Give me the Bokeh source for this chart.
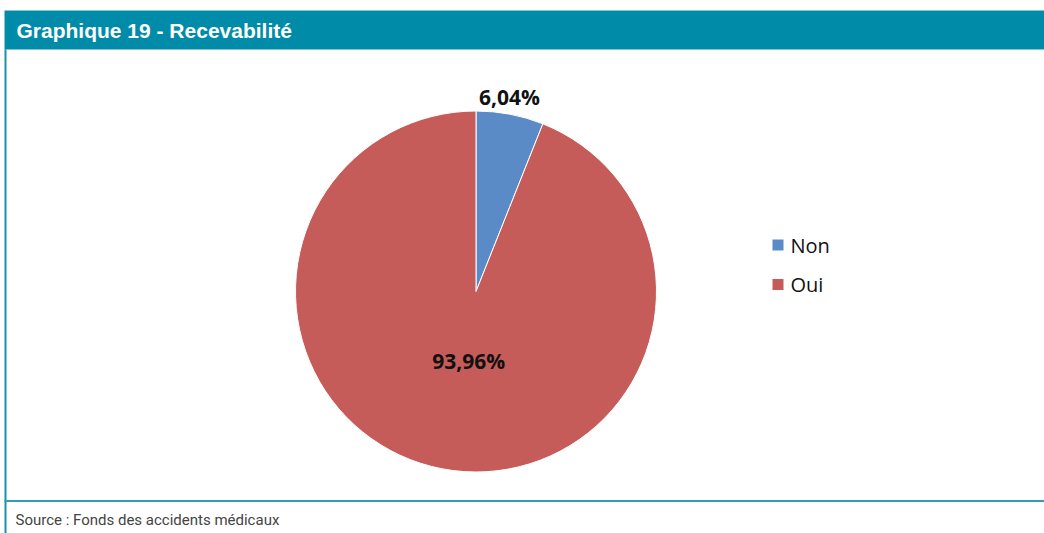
import math
from bokeh.plotting import figure
from bokeh.models import Range1d, ColumnDataSource
from bokeh.core.properties import value
from bokeh.embed import file_html
from bokeh.resources import INLINE

title = "Graphique 19 - Recevabilité"
source_note = "Source : Fonds des accidents médicaux"
categories = ["Non", "Oui"]
shares = [6.04, 93.96]
labels = ["6,04%", "93,96%"]
colors = ["#5B8BC6", "#C65C59"]

W, H = 1044, 533
p = figure(width=W, height=H, output_backend="svg", toolbar_location=None,
           x_range=Range1d(0, W), y_range=Range1d(0, H), min_border=0)
p.axis.visible = False
p.grid.visible = False
p.outline_line_color = None
p.background_fill_color = "white"
p.border_fill_color = "white"

def Y(px):
    return H - px

# frame
p.quad(left=[4], right=[W], top=[Y(10)], bottom=[Y(49)], fill_color="#008CA8", line_color=None)
p.segment(x0=[5], y0=[Y(49)], x1=[5], y1=[Y(533)], line_color="#1E8FAA", line_width=2)
p.segment(x0=[4], y0=[Y(500.5)], x1=[W], y1=[Y(500.5)], line_color="#2E9DB6", line_width=2)
p.text(x=[16], y=[Y(30)], text=[title], text_font=value("Liberation Sans"), text_font_style="bold",
       text_font_size="21px", text_color="white", text_baseline="middle", text_align="left")
p.text(x=[15], y=[Y(519)], text=[source_note], text_font=value("Roboto"),
       text_font_size="15px", text_color="#444444", text_baseline="middle", text_align="left")

# pie
cx, cy, r = 475.5, Y(291), 180.5
total = sum(shares)
starts, ends, mids = [], [], []
acc = 0.0
for s in shares:
    a0 = math.pi / 2 - 2 * math.pi * acc / total
    acc += s
    a1 = math.pi / 2 - 2 * math.pi * acc / total
    starts.append(a0)
    ends.append(a1)
    mids.append((a0 + a1) / 2)
src = ColumnDataSource(dict(start=starts, end=ends, color=colors, cat=categories))
p.wedge(x=cx, y=cy, radius=r, start_angle="start", end_angle="end", direction="clock",
        fill_color="color", line_color="white", line_width=1, source=src)

label_r = [198, 71]
lx = [cx + rr * math.cos(m) for rr, m in zip(label_r, mids)]
ly = [cy + rr * math.sin(m) for rr, m in zip(label_r, mids)]
lx[0] -= 4
lx[1] += 6
p.text(x=lx, y=ly, text=labels, text_font=value("Open Sans"), text_font_style="bold",
       text_font_size="21px", text_color="#111111", text_align="center", text_baseline="middle")

# legend
leg_y = [Y(244.5), Y(284)]
p.rect(x=[777.5, 777.5], y=leg_y, width=11, height=11, fill_color=colors, line_color=None)
p.text(x=[790, 790], y=leg_y, text=categories, text_font=value("Open Sans"),
       text_font_size="20px", text_color="#111111", text_align="left", text_baseline="middle")

open("out.html", "w").write(file_html(p, INLINE))
